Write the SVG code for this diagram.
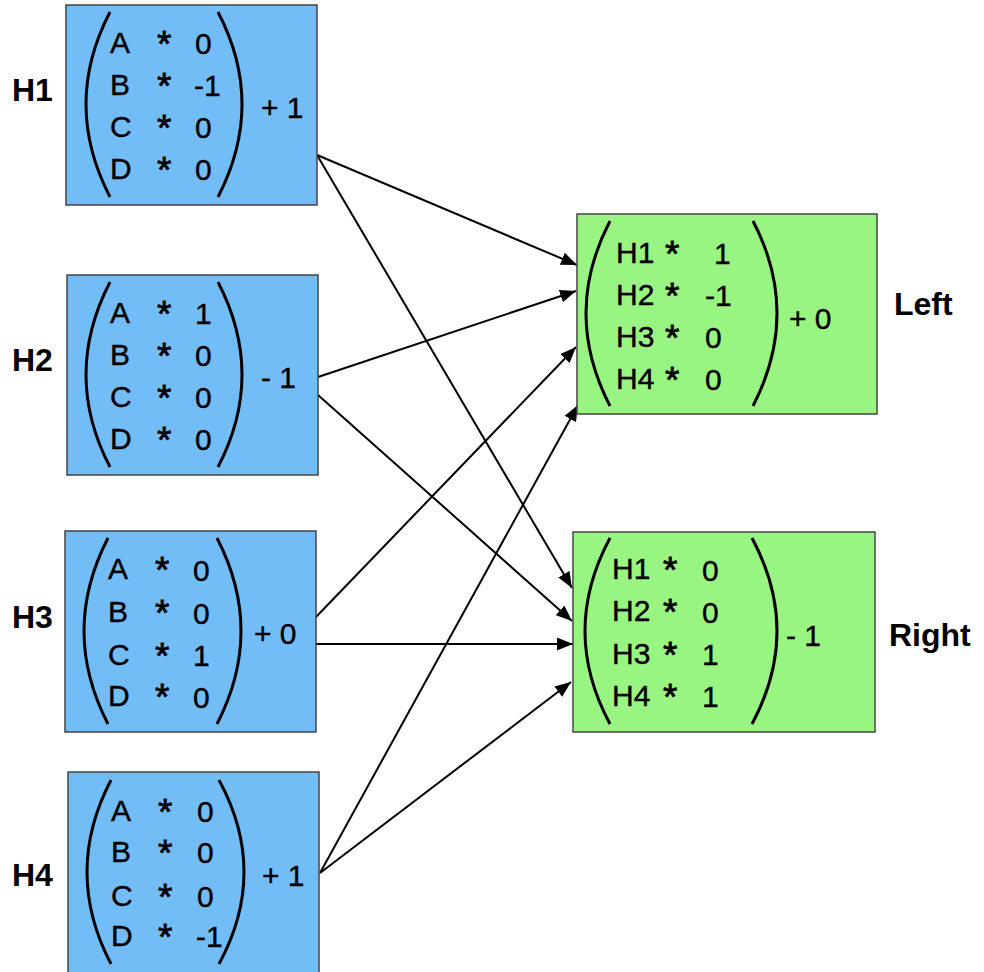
<svg xmlns="http://www.w3.org/2000/svg" width="984" height="972" viewBox="0 0 984 972">
<style>
.blue{fill:#73bdf7;stroke:#444;stroke-width:1.5}
.green{fill:#99f581;stroke:#444;stroke-width:1.5}
.t{font-family:"Liberation Sans",Arial,sans-serif;font-size:30px;fill:#000;stroke:#000;stroke-width:0.4}
.ast{font-family:"Liberation Sans",Arial,sans-serif;font-size:37px;fill:#000;stroke:#000;stroke-width:0.8}
.lbl{font-family:"Liberation Sans",Arial,sans-serif;font-size:32px;font-weight:bold;fill:#000}
.paren{fill:none;stroke:#000;stroke-width:3}
.conn{fill:none;stroke:#000;stroke-width:2}
</style>
<defs>
<marker id="arr" markerUnits="userSpaceOnUse" markerWidth="17" markerHeight="13" refX="16" refY="6.5" orient="auto">
<path d="M0,0 L16,6.5 L0,13 Z" fill="#000"/>
</marker>
</defs>
<rect width="984" height="972" fill="#fff"/>

<g id="connectors">
<line class="conn" x1="317" y1="155" x2="577" y2="265" marker-end="url(#arr)"/>
<line class="conn" x1="317" y1="155" x2="572" y2="588" marker-end="url(#arr)"/>
<line class="conn" x1="318" y1="377" x2="576" y2="291" marker-end="url(#arr)"/>
<line class="conn" x1="318" y1="395" x2="572" y2="621" marker-end="url(#arr)"/>
<line class="conn" x1="316" y1="617" x2="576" y2="347" marker-end="url(#arr)"/>
<line class="conn" x1="316" y1="644" x2="573" y2="644" marker-end="url(#arr)"/>
<line class="conn" x1="320" y1="873" x2="578" y2="405" marker-end="url(#arr)"/>
<line class="conn" x1="320" y1="873" x2="571" y2="682" marker-end="url(#arr)"/>
</g>

<g id="H1">
<rect class="blue" x="66" y="5" width="251" height="200"/>
<path class="paren" d="M110,12 Q62,104 110,197"/>
<path class="paren" d="M218,12 Q266,104 218,197"/>
<text class="t" x="110" y="53">A</text><text class="ast" x="157" y="57">*</text><text class="t" x="195" y="54">0</text>
<text class="t" x="110" y="95">B</text><text class="ast" x="157" y="99">*</text><text class="t" x="194" y="96">-1</text>
<text class="t" x="110" y="137">C</text><text class="ast" x="157" y="141">*</text><text class="t" x="195" y="138">0</text>
<text class="t" x="110" y="179">D</text><text class="ast" x="157" y="183">*</text><text class="t" x="195" y="180">0</text>
<text class="t" x="261" y="118">+ 1</text>
<text class="lbl" x="12" y="101">H1</text>
</g>

<g id="H2">
<rect class="blue" x="67" y="275" width="251" height="200"/>
<path class="paren" d="M110,282 Q62,375 110,467"/>
<path class="paren" d="M218,282 Q266,375 218,467"/>
<text class="t" x="110" y="323">A</text><text class="ast" x="157" y="327">*</text><text class="t" x="195" y="324">1</text>
<text class="t" x="110" y="365">B</text><text class="ast" x="157" y="369">*</text><text class="t" x="195" y="366">0</text>
<text class="t" x="110" y="407">C</text><text class="ast" x="157" y="411">*</text><text class="t" x="195" y="408">0</text>
<text class="t" x="110" y="449">D</text><text class="ast" x="157" y="453">*</text><text class="t" x="195" y="450">0</text>
<text class="t" x="261" y="388">- 1</text>
<text class="lbl" x="12" y="371">H2</text>
</g>

<g id="H3">
<rect class="blue" x="65" y="531" width="251" height="201"/>
<path class="paren" d="M108,538 Q60,631 108,724"/>
<path class="paren" d="M217,538 Q265,631 217,724"/>
<text class="t" x="108" y="579">A</text><text class="ast" x="155" y="583">*</text><text class="t" x="193" y="581">0</text>
<text class="t" x="108" y="622">B</text><text class="ast" x="155" y="626">*</text><text class="t" x="193" y="624">0</text>
<text class="t" x="108" y="665">C</text><text class="ast" x="155" y="669">*</text><text class="t" x="193" y="666">1</text>
<text class="t" x="108" y="706">D</text><text class="ast" x="155" y="710">*</text><text class="t" x="193" y="708">0</text>
<text class="t" x="254" y="644">+ 0</text>
<text class="lbl" x="12" y="628">H3</text>
</g>

<g id="H4">
<rect class="blue" x="68" y="772" width="251" height="205"/>
<path class="paren" d="M111,780 Q63,872 111,964"/>
<path class="paren" d="M219,780 Q269,872 219,964"/>
<text class="t" x="111" y="821">A</text><text class="ast" x="158" y="825">*</text><text class="t" x="197" y="822">0</text>
<text class="t" x="111" y="862">B</text><text class="ast" x="158" y="866">*</text><text class="t" x="197" y="863">0</text>
<text class="t" x="111" y="906">C</text><text class="ast" x="158" y="910">*</text><text class="t" x="197" y="907">0</text>
<text class="t" x="111" y="946">D</text><text class="ast" x="158" y="950">*</text><text class="t" x="196" y="947">-1</text>
<text class="t" x="262" y="886">+ 1</text>
<text class="lbl" x="12" y="886">H4</text>
</g>

<g id="Left">
<rect class="green" x="577" y="214" width="300" height="200"/>
<path class="paren" d="M610,221 Q562,313 610,406"/>
<path class="paren" d="M753,221 Q801,313 753,406"/>
<text class="t" x="616" y="263">H1</text><text class="ast" x="665" y="267">*</text><text class="t" x="714" y="264">1</text>
<text class="t" x="616" y="305">H2</text><text class="ast" x="665" y="309">*</text><text class="t" x="705" y="306">-1</text>
<text class="t" x="616" y="347">H3</text><text class="ast" x="665" y="351">*</text><text class="t" x="705" y="348">0</text>
<text class="t" x="616" y="389">H4</text><text class="ast" x="665" y="393">*</text><text class="t" x="705" y="390">0</text>
<text class="t" x="789" y="329">+ 0</text>
</g>
<text class="lbl" x="894" y="315">Left</text>

<g id="Right">
<rect class="green" x="573" y="532" width="302" height="200"/>
<path class="paren" d="M610,538 Q560,631 610,724"/>
<path class="paren" d="M752,538 Q802,631 752,724"/>
<text class="t" x="612" y="579">H1</text><text class="ast" x="663" y="583">*</text><text class="t" x="702" y="581">0</text>
<text class="t" x="612" y="621">H2</text><text class="ast" x="663" y="625">*</text><text class="t" x="702" y="623">0</text>
<text class="t" x="612" y="664">H3</text><text class="ast" x="663" y="668">*</text><text class="t" x="702" y="665">1</text>
<text class="t" x="612" y="706">H4</text><text class="ast" x="663" y="710">*</text><text class="t" x="702" y="707">1</text>
<text class="t" x="786" y="646">- 1</text>
</g>
<text class="lbl" x="889" y="646">Right</text>
</svg>
